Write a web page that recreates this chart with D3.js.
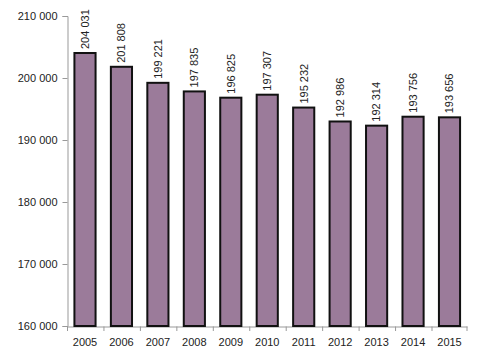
<!DOCTYPE html>
<html>
<head>
<meta charset="utf-8">
<script src="https://cdn.jsdelivr.net/npm/d3@7"></script>
<style>
  body { margin: 0; background: #fff; }
  svg { display: block; }
  text { font-family: "Liberation Sans", Arial, sans-serif; }
</style>
</head>
<body>
<svg id="chart" width="482" height="356"></svg>
<script>
const years = ["2005","2006","2007","2008","2009","2010","2011","2012","2013","2014","2015"];
const values = [204031, 201808, 199221, 197835, 196825, 197307, 195232, 192986, 192314, 193756, 193656];
const yTicks = [160000, 170000, 180000, 190000, 200000, 210000];

const svg = d3.select("#chart");
const mLeft = 67.5, mRight = 467, mTop = 16, mBottom = 326;

const x = d3.scaleBand().domain(years).range([mLeft, mRight]).paddingInner(0.42).paddingOuter(0.19);
const y = d3.scaleLinear().domain([160000, 210000]).range([mBottom, mTop]);

const fmt = v => d3.format(",")(v).replace(/,/g, " ");

// y axis
const yAxis = svg.append("g").attr("transform", `translate(${mLeft},0)`)
  .call(d3.axisLeft(y).tickValues(yTicks).tickSize(5).tickPadding(5).tickFormat(fmt));
yAxis.select(".domain").attr("stroke", "#999");
yAxis.selectAll(".tick line").attr("stroke", "#999");
yAxis.selectAll(".tick text").attr("fill", "#222").style("font-size", "11px");

// x axis
const xAxis = svg.append("g").attr("transform", `translate(0,${mBottom + 0.5})`)
  .call(d3.axisBottom(x).tickSize(0).tickPadding(12));
xAxis.select(".domain").attr("stroke", "#999");
xAxis.selectAll(".tick text").attr("fill", "#222").style("font-size", "11px");
// boundary tick marks between categories
const bounds = years.map((d, i) => mLeft + i * x.step()).concat([mRight]);
svg.append("g").selectAll("line").data(bounds).join("line")
  .attr("x1", d => d).attr("x2", d => d)
  .attr("y1", mBottom + 0.5).attr("y2", mBottom + 5)
  .attr("stroke", "#999");

// bars
svg.append("g").selectAll("rect").data(values).join("rect")
  .attr("x", (d, i) => x(years[i]))
  .attr("y", d => y(d))
  .attr("width", x.bandwidth())
  .attr("height", d => mBottom - y(d))
  .attr("fill", "#9b7b9a")
  .attr("stroke", "#111")
  .attr("stroke-width", 2);

// value labels
svg.append("g").selectAll("text").data(values).join("text")
  .attr("transform", (d, i) => `translate(${x(years[i]) + x.bandwidth() / 2},${y(d) - 4}) rotate(-90)`)
  .attr("dy", "0.35em")
  .attr("text-anchor", "start")
  .attr("fill", "#222")
  .style("font-size", "11px")
  .text(d => fmt(d));
</script>
</body>
</html>
